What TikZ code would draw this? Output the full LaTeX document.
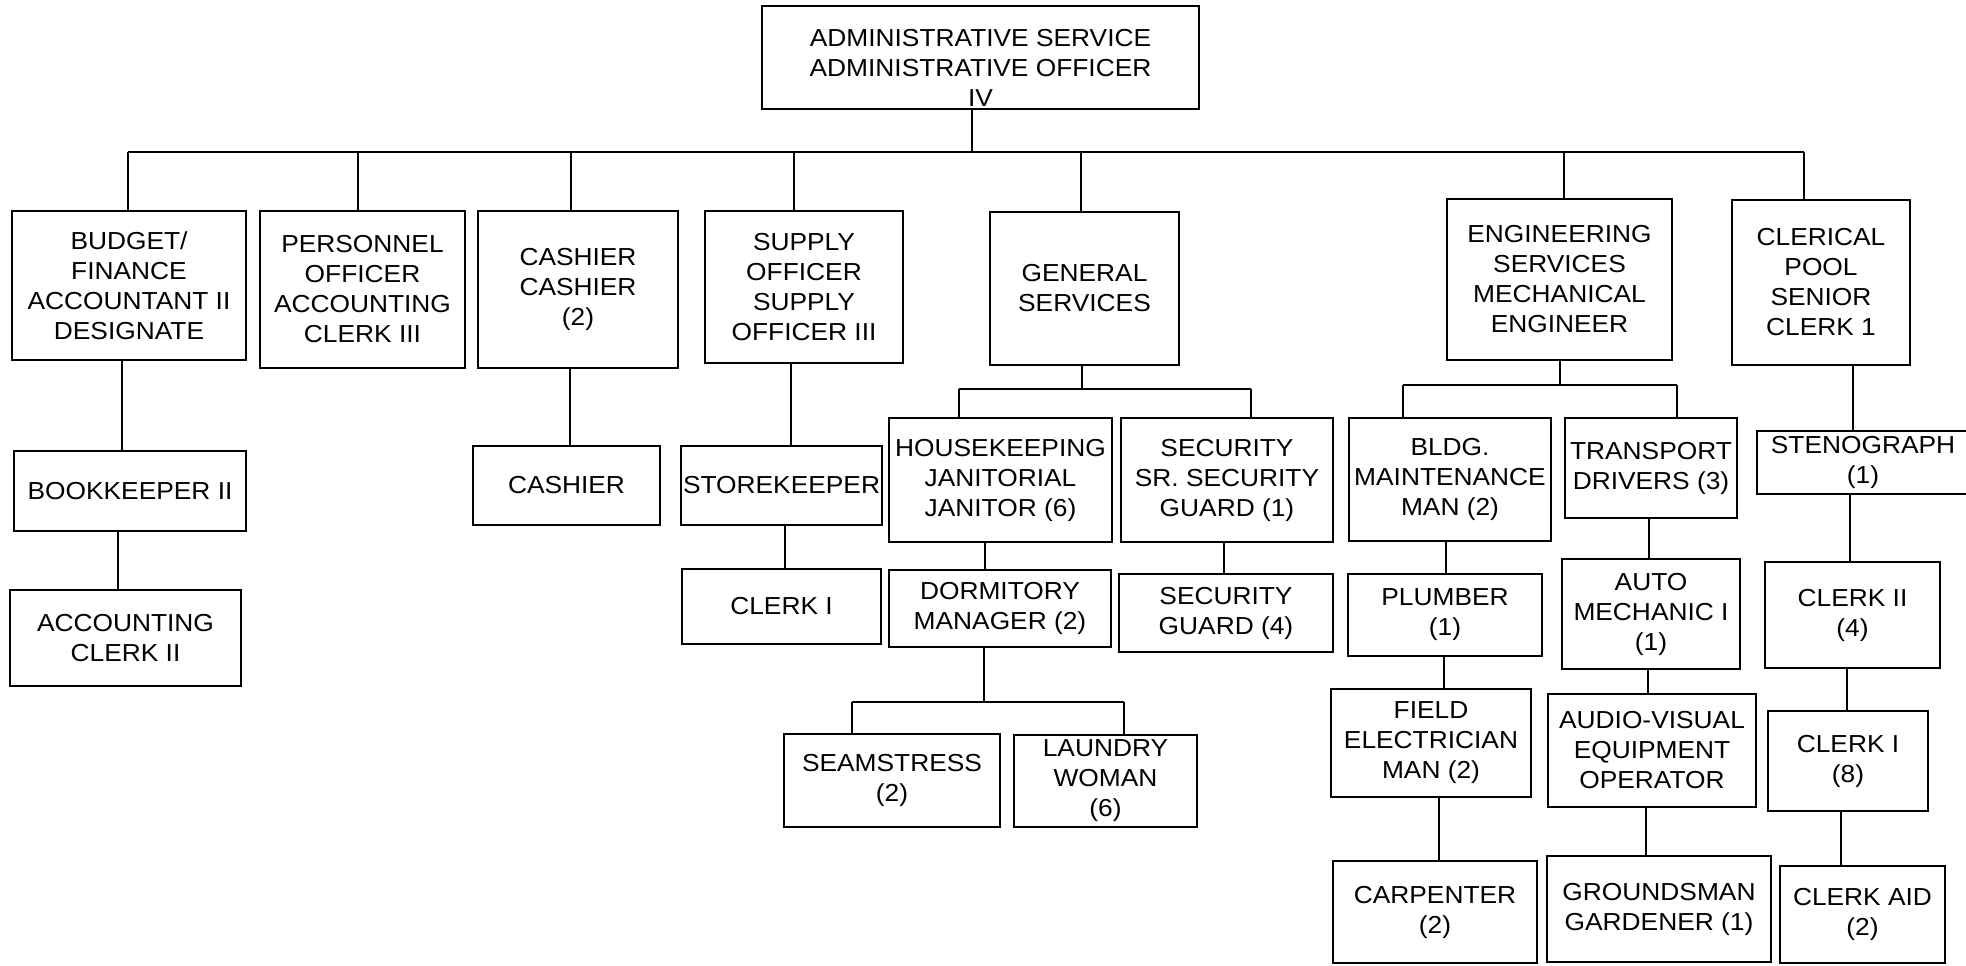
\documentclass[tikz,border=0pt]{standalone}
\usepackage{fontspec}
\setmainfont{Liberation Sans}[FakeStretch=1.07]
\newcommand{\orgBox}[6]{%%
  \node[boxStyle,minimum width={(#4-#2)*0.5pt},minimum height={(#5-#3)*0.5pt}]
    (#1) at ({(#2+#4)/2},{(#3+#5)/2}) {#6};
}
\newcommand{\orgLink}[3]{%%
  \draw[lineStyle] (#3,0 |- #1.south) -- (#3,0 |- #2.north);
}
\newcommand{\subBus}[7]{%%
  %% Drop from the parent, the bus, and the two drops to the children.
  \draw[lineStyle] (#2,0 |- #1.south) -- (#2,#3);
  \draw[lineStyle] (#5,#3) -- (#7,#3);
  \draw[lineStyle] (#5,#3) -- (#5,0 |- #4.north);
  \draw[lineStyle] (#7,#3) -- (#7,0 |- #6.north);
}
\begin{document}
\begin{tikzpicture}[%%
  x=0.5pt,y=-0.5pt,%%
  boxStyle/.style={draw,rectangle,line width=0.9pt,align=center,inner sep=1pt,%%
    font=\fontsize{12.3}{15}\selectfont},%%
  lineStyle/.style={-,line width=0.7pt}
]
%%
%%
\fill[white] (0,0) rectangle (1966,965);
\clip (0,0) rectangle (1966,965);
\pgfmathsetmacro{\mainBusY}{152}
%%
%% The head of the service.
\orgBox{admin}{762}{6}{1199}{109}{\rule{0pt}{18.5pt}ADMINISTRATIVE SERVICE\\ADMINISTRATIVE OFFICER\\IV}
%%
%% The first row of units.
\orgBox{budget}{12}{211}{246}{360}{BUDGET/\\FINANCE\\ACCOUNTANT II\\DESIGNATE}
\orgBox{personnel}{260}{211}{465}{368}{PERSONNEL\\OFFICER\\ACCOUNTING\\CLERK III}
\orgBox{cashierTop}{478}{211}{678}{368}{CASHIER\\CASHIER\\(2)}
\orgBox{supply}{705}{211}{903}{363}{SUPPLY\\OFFICER\\SUPPLY\\OFFICER III}
\orgBox{general}{990}{212}{1179}{365}{GENERAL\\SERVICES}
\orgBox{engineering}{1447}{199}{1672}{360}{ENGINEERING\\SERVICES\\MECHANICAL\\ENGINEER}
\orgBox{clerical}{1732}{200}{1910}{365}{CLERICAL\\POOL\\SENIOR\\CLERK 1}
%%
%% Staff under the units.
\orgBox{bookkeeper}{14}{451}{246}{531}{BOOKKEEPER II}
\orgBox{acctClerk}{10}{590}{241}{686}{ACCOUNTING\\CLERK II}
\orgBox{cashier}{473}{446}{660}{525}{CASHIER}
\orgBox{storekeeper}{682}{446}{881}{525}{STOREKEEPER}
\orgBox{clerkStore}{682}{569}{881}{644}{CLERK I}
\orgBox{housekeeping}{889}{418}{1112}{542}{HOUSEKEEPING\\JANITORIAL\\JANITOR (6)}
\orgBox{security}{1121}{418}{1333}{542}{SECURITY\\SR. SECURITY\\GUARD (1)}
\orgBox{dormitory}{889}{570}{1111}{647}{DORMITORY\\MANAGER (2)}
\orgBox{guard}{1119}{574}{1333}{652}{SECURITY\\GUARD (4)}
\orgBox{seamstress}{784}{734}{1000}{827}{SEAMSTRESS\\(2)}
\orgBox{laundry}{1014}{735}{1197}{827}{LAUNDRY\\WOMAN\\(6)}
\orgBox{bldg}{1349}{418}{1551}{541}{BLDG.\\MAINTENANCE\\MAN (2)}
\orgBox{transport}{1565}{418}{1737}{518}{TRANSPORT\\DRIVERS (3)}
\orgBox{steno}{1757}{431}{1969}{494}{STENOGRAPH\\(1)}
\orgBox{plumber}{1348}{574}{1542}{656}{PLUMBER\\(1)}
\orgBox{electrician}{1331}{689}{1531}{797}{FIELD\\ELECTRICIAN\\MAN (2)}
\orgBox{carpenter}{1333}{861}{1537}{963}{CARPENTER\\(2)}
\orgBox{mechanic}{1562}{559}{1740}{669}{AUTO\\MECHANIC I\\(1)}
\orgBox{audioVisual}{1548}{694}{1756}{807}{AUDIO-VISUAL\\EQUIPMENT\\OPERATOR}
\orgBox{groundsman}{1547}{856}{1771}{962}{GROUNDSMAN\\GARDENER (1)}
\orgBox{clerkTwo}{1765}{562}{1940}{668}{CLERK II\\(4)}
\orgBox{clerkOne}{1768}{711}{1928}{811}{CLERK I\\(8)}
\orgBox{clerkAid}{1780}{866}{1945}{963}{CLERK AID\\(2)}
%%
%% The main bus.
\draw[lineStyle] (972,0 |- admin.south) -- (972,\mainBusY);
\draw[lineStyle] (128,\mainBusY) -- (1804,\mainBusY);
\foreach \n/\x in {budget/128,personnel/358,cashierTop/571,supply/794,%%
  general/1081,engineering/1564,clerical/1804}{
  \draw[lineStyle] (\x,\mainBusY) -- (\x,0 |- \n.north);
};
%%
%% Buses with two children.
\subBus{general}{1082}{389}{housekeeping}{959}{security}{1251}
\subBus{dormitory}{984}{702}{seamstress}{852}{laundry}{1124}
\subBus{engineering}{1560}{385}{bldg}{1403}{transport}{1677}
%%
%% Single links down the columns.
\foreach \p/\c/\x in {budget/bookkeeper/122,bookkeeper/acctClerk/118,%%
  cashierTop/cashier/570,supply/storekeeper/791,storekeeper/clerkStore/785,%%
  housekeeping/dormitory/985,security/guard/1224,%%
  bldg/plumber/1446,plumber/electrician/1444,electrician/carpenter/1439,%%
  transport/mechanic/1649,mechanic/audioVisual/1648,audioVisual/groundsman/1646,%%
  clerical/steno/1853,steno/clerkTwo/1850,clerkTwo/clerkOne/1847,clerkOne/clerkAid/1841}{
  \orgLink{\p}{\c}{\x}
};
\end{tikzpicture}
\end{document}
